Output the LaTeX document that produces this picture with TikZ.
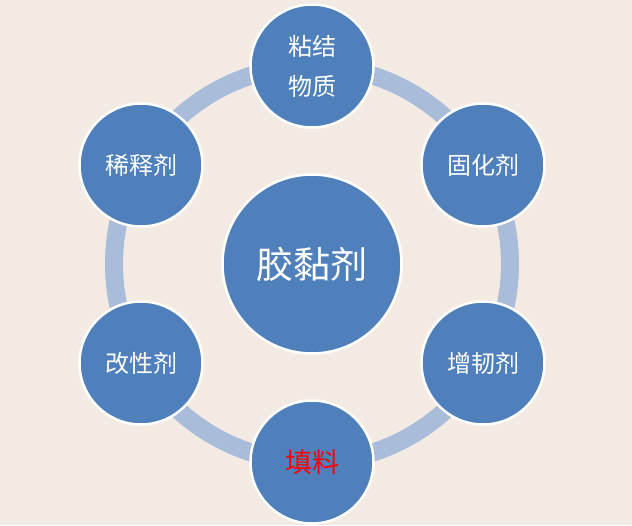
\documentclass[tikz,border=0pt]{standalone}
\usepackage{fontspec}
\usepackage{xcolor}
\newfontfamily\cjk{Noto Sans CJK SC}
\usetikzlibrary{positioning}
\definecolor{wood}{HTML}{F3EAE4}
\definecolor{ringblue}{HTML}{A9BCDA}
\definecolor{bub}{HTML}{4F80BC}
\tikzset{part/.style={circle, minimum size=123pt, inner sep=0pt, fill=bub, draw=white, line width=2.5pt, text=white, align=center, font=\cjk\fontsize{24}{40}\selectfont}}

\begin{document}
\begin{tikzpicture}[x=1pt, y=1pt]
    \fill[wood] (0, 0) rectangle (632, -525);
    \useasboundingbox (0, 0) rectangle (632, -525);

    \draw[ringblue, line width=18pt] (312, -264) circle (198);

    \node[part, minimum size=179pt, font=\cjk\fontsize{37}{40}\selectfont] (core) at (312, -264) {胶黏剂};

    \node[part] (nianjie) at (312, -66) {粘结\\物质};
    \node[part] (guhua) at (483, -165) {固化剂};
    \node[part] (zengren) at (483, -363) {增韧剂};
    \node[part, text=red, font=\cjk\fontsize{27}{30}\selectfont] (tianliao) at (312, -462) {填料};
    \node[part] (gaixing) at (141, -363) {改性剂};
    \node[part] (xishi) at (141, -165) {稀释剂};
\end{tikzpicture}
\end{document}
